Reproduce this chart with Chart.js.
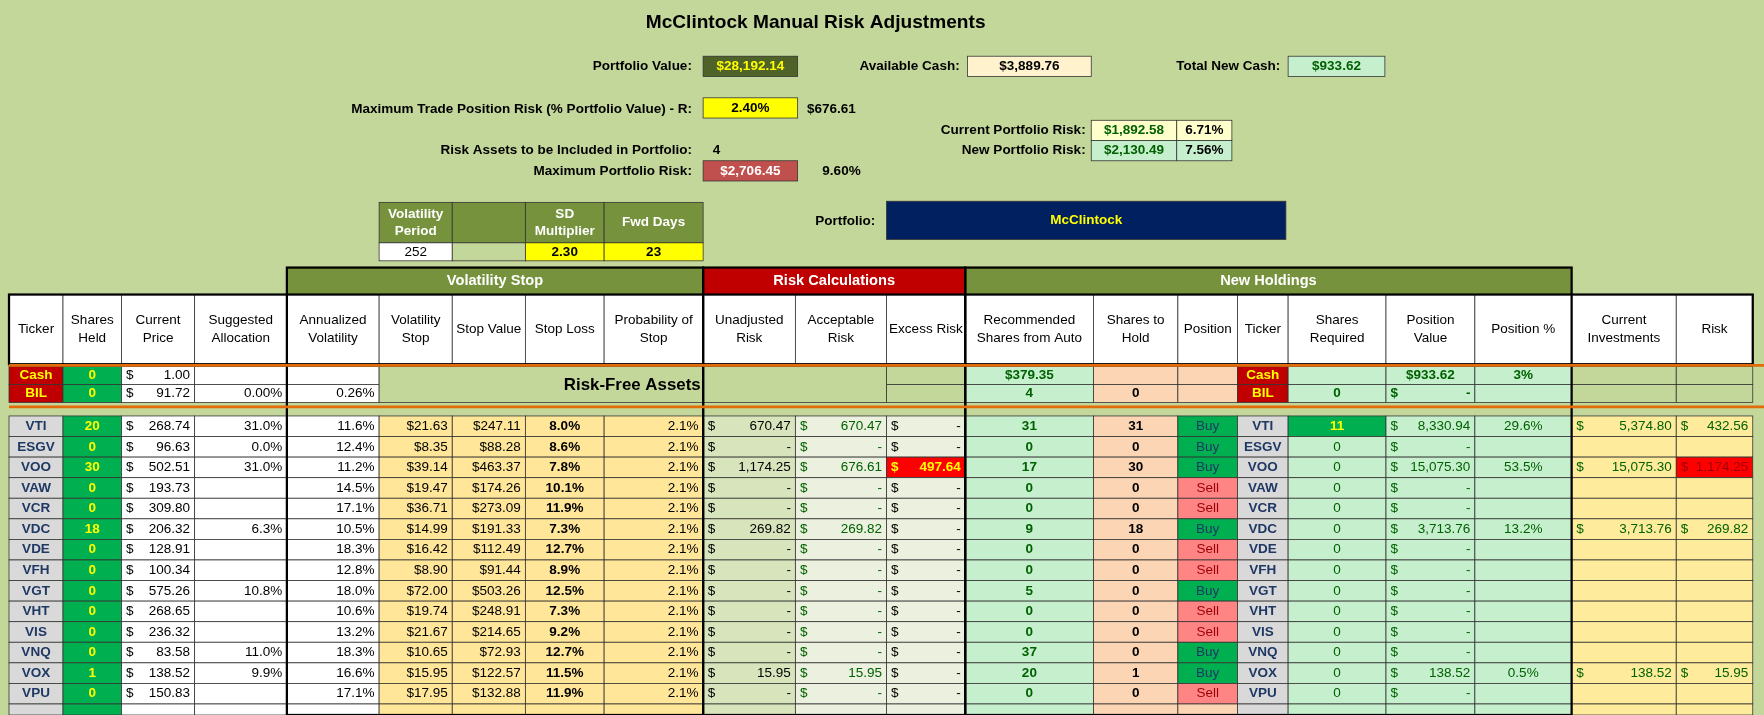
<!DOCTYPE html>
<html><head><meta charset="utf-8">
<script src="https://cdn.jsdelivr.net/npm/chart.js@4"></script>
<style>html,body{margin:0;padding:0;background:#c4d79b;overflow:hidden}</style>
</head><body>
<canvas id="c" width="1764" height="715"></canvas>
<script>
// ---- data ----
const headers = ["Ticker","Shares\nHeld","Current\nPrice","Suggested\nAllocation","Annualized\nVolatility","Volatility\nStop","Stop Value","Stop Loss","Probability of\nStop","Unadjusted\nRisk","Acceptable\nRisk","Excess Risk","Recommended\nShares from Auto","Shares to\nHold","Position","Ticker","Shares\nRequired","Position\nValue","Position %","Current\nInvestments","Risk"];
const tickers      = ["VTI","ESGV","VOO","VAW","VCR","VDC","VDE","VFH","VGT","VHT","VIS","VNQ","VOX","VPU"];
const sharesHeld   = ["20","0","30","0","0","18","0","0","0","0","0","0","1","0"];
const currentPrice = ["268.74","96.63","502.51","193.73","309.80","206.32","128.91","100.34","575.26","268.65","236.32","83.58","138.52","150.83"];
const suggestedAlloc = ["31.0%","0.0%","31.0%","","","6.3%","","","10.8%","","","11.0%","9.9%",""];
const annVol       = ["11.6%","12.4%","11.2%","14.5%","17.1%","10.5%","18.3%","12.8%","18.0%","10.6%","13.2%","18.3%","16.6%","17.1%"];
const volStop      = ["$21.63","$8.35","$39.14","$19.47","$36.71","$14.99","$16.42","$8.90","$72.00","$19.74","$21.67","$10.65","$15.95","$17.95"];
const stopValue    = ["$247.11","$88.28","$463.37","$174.26","$273.09","$191.33","$112.49","$91.44","$503.26","$248.91","$214.65","$72.93","$122.57","$132.88"];
const stopLoss     = ["8.0%","8.6%","7.8%","10.1%","11.9%","7.3%","12.7%","8.9%","12.5%","7.3%","9.2%","12.7%","11.5%","11.9%"];
const probStop     = ["2.1%","2.1%","2.1%","2.1%","2.1%","2.1%","2.1%","2.1%","2.1%","2.1%","2.1%","2.1%","2.1%","2.1%"];
const unadjRisk    = ["670.47","-","1,174.25","-","-","269.82","-","-","-","-","-","-","15.95","-"];
const acceptRisk   = ["670.47","-","676.61","-","-","269.82","-","-","-","-","-","-","15.95","-"];
const excessRisk   = ["-","-","497.64","-","-","-","-","-","-","-","-","-","-","-"];
const recShares    = ["31","0","17","0","0","9","0","0","5","0","0","37","20","0"];
const sharesHold   = ["31","0","30","0","0","18","0","0","0","0","0","0","1","0"];
const position     = ["Buy","Buy","Buy","Sell","Sell","Buy","Sell","Sell","Buy","Sell","Sell","Buy","Buy","Sell"];
const sharesReq    = ["11","0","0","0","0","0","0","0","0","0","0","0","0","0"];
const positionValue= ["8,330.94","-","15,075.30","-","-","3,713.76","-","-","-","-","-","-","138.52","-"];
const positionPct  = ["29.6%","","53.5%","","","13.2%","","","","","","","0.5%",""];
const currentInv   = ["5,374.80","","15,075.30","","","3,713.76","","","","","","","138.52",""];
const riskVals     = ["432.56","","1,174.25","","","269.82","","","","","","","15.95",""];

// ---- layout (reference units) ----
const colX = [8,56,108,173,255,337,402,467,537,625,707,788,858,972,1047,1100,1145,1232,1311,1397,1490,1558];
const rowY0 = 370, rowH = 18.3;

const tablePlugin = {
  id:'table',
  afterDraw(chart){
    const c = chart.ctx, xs = chart.scales.x, ys = chart.scales.y;
    const X = v => xs.getPixelForValue(v), Y = v => ys.getPixelForValue(v);
    const k = X(1)-X(0);
    const font = (s,b=true)=>`${b?'bold ':''}${s*k}px "Liberation Sans", Arial, sans-serif`;
    function rect(x1,y1,x2,y2,fill,stroke='#333',lw=0.7){
      if(fill){c.fillStyle=fill;c.fillRect(X(x1),Y(y1),X(x2)-X(x1),Y(y2)-Y(y1));}
      if(stroke){c.strokeStyle=stroke;c.lineWidth=lw*k;c.strokeRect(X(x1),Y(y1),X(x2)-X(x1),Y(y2)-Y(y1));}
    }
    function text(t,x,y,align='center',color='#000',size=12,bold=true){
      c.font=font(size,bold);c.fillStyle=color;c.textAlign=align;c.textBaseline='middle';
      const lines=String(t).split('\n');
      lines.forEach((l,i)=>c.fillText(l,X(x),Y(y+(i-(lines.length-1)/2)*size*1.3)));
    }
    function cell(x1,x2,y1,y2,fill,t,color='#000',align='center',bold=true,size=12){
      rect(x1,y1,x2,y2,fill);
      if(t===undefined||t==='')return;
      const ym=(y1+y2)/2;
      if(String(t).startsWith('$ ')){
        text('$',x1+4,ym,'left',color,size,bold);
        text(String(t).slice(2),x2-4,ym,'right',color,size,bold);
      } else if(align==='right') text(t,x2-4,ym,'right',color,size,bold);
      else text(t,(x1+x2)/2,ym,'center',color,size,bold);
    }
    // Title & top section
    text("McClintock Manual Risk Adjustments",725,20,'center','#000',17);
    text("Portfolio Value:",615,59,'right');
    cell(625,709,50,68,'#4f6228','$28,192.14','#ffff00');
    text("Available Cash:",853,59,'right');
    cell(860,970,50,68,'#fff2cc','$3,889.76','#000');
    text("Total New Cash:",1138,59,'right');
    cell(1145,1231,50,68,'#c6efce','$933.62','#006100');
    text("Maximum Trade Position Risk (% Portfolio Value) - R:",615,97,'right');
    cell(625,709,87,105,'#ffff00','2.40%');
    text("$676.61",739,97);
    text("Current Portfolio Risk:",965,116,'right');
    cell(970,1046,107,125,'#ffffcc','$1,892.58','#006100');
    cell(1046,1095,107,125,'#ffffcc','6.71%');
    text("New Portfolio Risk:",965,134,'right');
    cell(970,1046,125,143,'#c6efce','$2,130.49','#006100');
    cell(1046,1095,125,143,'#c6efce','7.56%');
    text("Risk Assets to be Included in Portfolio:",615,134,'right');
    text("4",637,134);
    text("Maximum Portfolio Risk:",615,152,'right');
    cell(625,709,143,161,'#c0504d','$2,706.45','#fff');
    text("9.60%",748,152);
    cell(337,402,180,216,'#76923c','Volatility\nPeriod','#fff');
    cell(402,467,180,216,'#76923c','');
    cell(467,537,180,216,'#76923c','SD\nMultiplier','#fff');
    cell(537,625,180,216,'#76923c','Fwd Days','#fff');
    cell(337,402,216,232,'#fff','252','#000','center',false);
    cell(402,467,216,232,'#c4d79b','');
    cell(467,537,216,232,'#ffff00','2.30');
    cell(537,625,216,232,'#ffff00','23');
    text("Portfolio:",778,197,'right');
    cell(788,1143,179,213,'#002060','McClintock','#ffff00');
    // group headers
    cell(255,625,238,262,'#76923c','Volatility Stop','#fff','center',true,13);
    cell(625,858,238,262,'#c00000','Risk Calculations','#fff','center',true,13);
    cell(858,1397,238,262,'#76923c','New Holdings','#fff','center',true,13);
    // column headers
    headers.forEach((h,i)=>cell(colX[i],colX[i+1],262,324,'#fff',h,'#000','center',false,12));
    // risk-free rows
    const fills=['#d9d9d9','#00b050','#fff','#fff','#fff','#ffe699','#ffe699','#ffe699','#ffe699','#d8e4bc','#ebf1de','#ebf1de','#c6efce','#fcd5b4','#fcd5b4','#d9d9d9','#c6efce','#c6efce','#c6efce','#ffeb9c','#ffeb9c'];
    const rf=[{t:'Cash',sh:'0',p:'$ 1.00',a:'',v:'',rec:'$379.35',hold:'',req:'',pv:'$933.62',pp:'3%'},
              {t:'BIL',sh:'0',p:'$ 91.72',a:'0.00%',v:'0.26%',rec:'4',hold:'0',req:'0',pv:'$ -',pp:''}];
    rf.forEach((r,j)=>{
      const y1=326+j*16,y2=y1+16;
      cell(colX[0],colX[1],y1,y2,'#c00000',r.t,'#ffff00');
      cell(colX[1],colX[2],y1,y2,'#00b050',r.sh,'#ffff00');
      cell(colX[2],colX[3],y1,y2,'#fff',r.p,'#000','center',false);
      cell(colX[3],colX[4],y1,y2,'#fff',r.a,'#000','right',false);
      cell(colX[4],colX[5],y1,y2,'#fff',r.v,'#000','right',false);
      cell(colX[11],colX[12],y1,y2,'#c4d79b','');
      cell(colX[12],colX[13],y1,y2,'#c6efce',r.rec,'#006100');
      cell(colX[13],colX[14],y1,y2,'#fcd5b4',r.hold);
      cell(colX[14],colX[15],y1,y2,'#fcd5b4','');
      cell(colX[15],colX[16],y1,y2,'#c00000',r.t,'#ffff00');
      cell(colX[16],colX[17],y1,y2,'#c6efce',r.req,'#006100');
      cell(colX[17],colX[18],y1,y2,'#c6efce',r.pv,'#006100');
      cell(colX[18],colX[19],y1,y2,'#c6efce',r.pp,'#006100');
      cell(colX[19],colX[20],y1,y2,'#c4d79b','');
      cell(colX[20],colX[21],y1,y2,'#c4d79b','');
    });
    rect(337,326,788,358,'#c4d79b','#333');
    text('Risk-Free Assets',562,343,'center','#000',15);
    // risk assets
    tickers.concat(['']).forEach((t,i)=>{
      const y1=rowY0+i*rowH,y2=y1+rowH;
      const last = t==='';
      const vals=last?Array(21).fill(''):[t,sharesHeld[i],'$ '+currentPrice[i],suggestedAlloc[i],annVol[i],volStop[i],stopValue[i],stopLoss[i],probStop[i],
        '$ '+unadjRisk[i],'$ '+acceptRisk[i],'$ '+excessRisk[i],recShares[i],sharesHold[i],position[i],t,sharesReq[i],'$ '+positionValue[i],positionPct[i],
        currentInv[i]?'$ '+currentInv[i]:'',riskVals[i]?'$ '+riskVals[i]:''];
      vals.forEach((v,ci)=>{
        let f=fills[ci],col='#000',al='center',b=false;
        if(ci===0||ci===15){col='#1f3864';b=true;}
        if(ci===1){col='#ffff00';b=true;}
        if(ci>=3&&ci<=4||ci===8)al='right';
        if(ci===5||ci===6)al='right';
        if(ci===7){b=true;}
        if(ci===10||ci===12||ci===16||ci===17||ci===18||ci===19||ci===20){col='#006100';}
        if(ci===12||ci===13)b=true;
        if(ci===14&&!last){b=false;if(v==='Buy'){f='#00b050';col='#1f3864';}else{f='#ff8585';col='#9c0006';}}
        if(ci===16&&v==='11'){f='#00b050';col='#ffff00';b=true;}
        if(ci===11&&excessRisk[i]!=='-'&&!last){f='#ff0000';col='#ffff00';b=true;}
        if(ci===20&&i===2){f='#ff0000';col='#9c0006';}
        if(ci===18)al='center';
        cell(colX[ci],colX[ci+1],y1,Math.min(y2,636),f,v,col,al,b);
      });
    });
    // thick borders
    c.strokeStyle='#000';c.lineWidth=2*k;
    [[255,238,625,636],[625,238,858,636],[858,238,1397,636],[8,262,1558,324]].forEach(r=>c.strokeRect(X(r[0]),Y(r[1]),X(r[2])-X(r[0]),Y(r[3])-Y(r[1])));
    // orange separators
    c.strokeStyle='#e26b0a';c.lineWidth=2.5*k;
    [325,362].forEach(y=>{c.beginPath();c.moveTo(X(8),Y(y));c.lineTo(X(1568),Y(y));c.stroke();});
  }
};

new Chart(document.getElementById('c'),{
  type:'scatter',
  data:{datasets:[{data:[],pointRadius:0}]},
  options:{responsive:false,animation:false,layout:{padding:0},
    plugins:{legend:{display:false},tooltip:{enabled:false}},
    scales:{x:{type:'linear',min:0,max:1568,display:false},y:{type:'linear',min:0,max:636,reverse:true,display:false}}},
  plugins:[tablePlugin]
});
</script>
</body></html>
